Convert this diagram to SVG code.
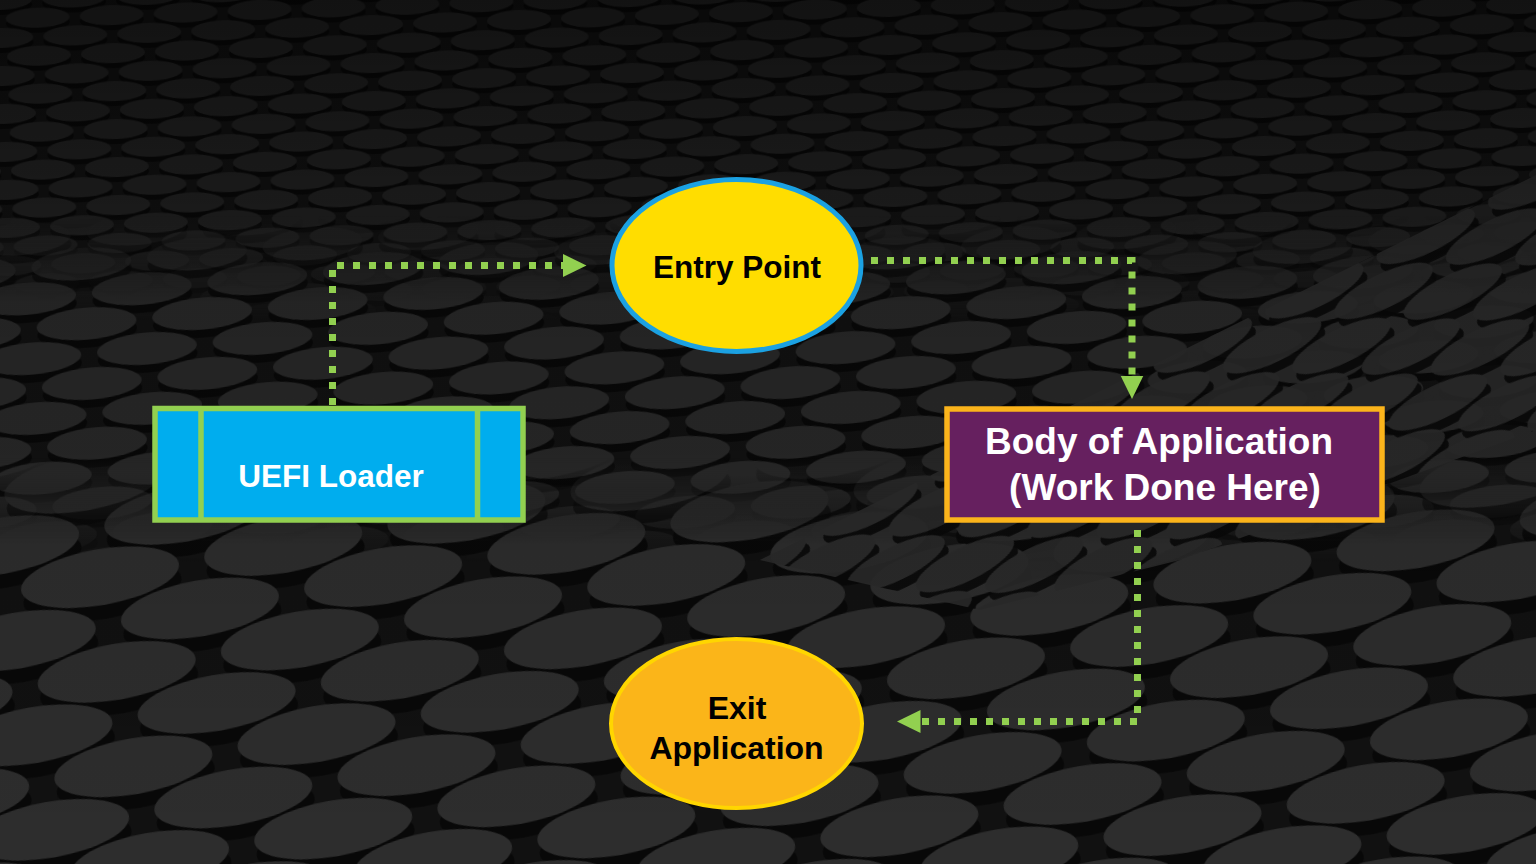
<svg xmlns="http://www.w3.org/2000/svg" width="1536" height="864" viewBox="0 0 1536 864">
  <style>
    .lbl { font-family: "Liberation Sans", Arial, sans-serif; font-weight: bold; text-anchor: middle; }
    .conn { fill: none; stroke: #92D050; stroke-width: 7; stroke-dasharray: 7 9; }
    .sh { fill: #080808; }
  </style>
  <defs>
    <marker id="arrow" markerUnits="userSpaceOnUse" markerWidth="24" markerHeight="24" refX="0" refY="11.5" orient="auto">
      <path d="M0,0 L23.5,11.5 L0,23 Z" fill="#92D050"/>
    </marker>
    <pattern id="pSmall" patternUnits="userSpaceOnUse" width="74" height="38" patternTransform="rotate(-2)">
      <g fill="#212121">
        <ellipse class="sh" cx="0" cy="5" rx="32" ry="10"/>
        <ellipse class="sh" cx="74" cy="5" rx="32" ry="10"/>
        <ellipse cx="0" cy="0" rx="32" ry="10"/>
        <ellipse cx="74" cy="0" rx="32" ry="10"/>
        <ellipse class="sh" cx="37" cy="24" rx="32" ry="10"/>
        <ellipse cx="37" cy="19" rx="32" ry="10"/>
        <ellipse class="sh" cx="0" cy="43" rx="32" ry="10"/>
        <ellipse class="sh" cx="74" cy="43" rx="32" ry="10"/>
        <ellipse cx="0" cy="38" rx="32" ry="10"/>
        <ellipse cx="74" cy="38" rx="32" ry="10"/>
      </g>
    </pattern>
    <pattern id="pMid" patternUnits="userSpaceOnUse" width="116" height="60" patternTransform="rotate(-5)">
      <g fill="#282828">
        <ellipse class="sh" cx="0" cy="8" rx="50" ry="16"/>
        <ellipse class="sh" cx="116" cy="8" rx="50" ry="16"/>
        <ellipse cx="0" cy="0" rx="50" ry="16"/>
        <ellipse cx="116" cy="0" rx="50" ry="16"/>
        <ellipse class="sh" cx="58" cy="38" rx="50" ry="16"/>
        <ellipse cx="58" cy="30" rx="50" ry="16"/>
        <ellipse class="sh" cx="0" cy="68" rx="50" ry="16"/>
        <ellipse class="sh" cx="116" cy="68" rx="50" ry="16"/>
        <ellipse cx="0" cy="60" rx="50" ry="16"/>
        <ellipse cx="116" cy="60" rx="50" ry="16"/>
      </g>
    </pattern>
    <pattern id="pBig" patternUnits="userSpaceOnUse" width="186" height="96" patternTransform="translate(0,10) rotate(-10)">
      <g fill="#2d2d2d">
        <ellipse class="sh" cx="0" cy="14" rx="80" ry="28"/>
        <ellipse class="sh" cx="186" cy="14" rx="80" ry="28"/>
        <ellipse cx="0" cy="0" rx="80" ry="28"/>
        <ellipse cx="186" cy="0" rx="80" ry="28"/>
        <ellipse class="sh" cx="93" cy="62" rx="80" ry="28"/>
        <ellipse cx="93" cy="48" rx="80" ry="28"/>
        <ellipse class="sh" cx="0" cy="110" rx="80" ry="28"/>
        <ellipse class="sh" cx="186" cy="110" rx="80" ry="28"/>
        <ellipse cx="0" cy="96" rx="80" ry="28"/>
        <ellipse cx="186" cy="96" rx="80" ry="28"/>
      </g>
    </pattern>
    <pattern id="pRidge" patternUnits="userSpaceOnUse" width="124" height="62" patternTransform="rotate(-26)">
      <g fill="#2a2a2a">
        <ellipse class="sh" cx="0" cy="9" rx="54" ry="17"/>
        <ellipse class="sh" cx="124" cy="9" rx="54" ry="17"/>
        <ellipse cx="0" cy="0" rx="54" ry="17"/>
        <ellipse cx="124" cy="0" rx="54" ry="17"/>
        <ellipse class="sh" cx="62" cy="40" rx="54" ry="17"/>
        <ellipse cx="62" cy="31" rx="54" ry="17"/>
        <ellipse class="sh" cx="0" cy="71" rx="54" ry="17"/>
        <ellipse class="sh" cx="124" cy="71" rx="54" ry="17"/>
        <ellipse cx="0" cy="62" rx="54" ry="17"/>
        <ellipse cx="124" cy="62" rx="54" ry="17"/>
      </g>
    </pattern>
    <linearGradient id="gTop" x1="0" y1="0" x2="0" y2="1">
      <stop offset="0" stop-color="#fff"/>
      <stop offset="0.27" stop-color="#fff"/>
      <stop offset="0.37" stop-color="#000"/>
    </linearGradient>
    <linearGradient id="gMid" x1="0" y1="0" x2="0" y2="1">
      <stop offset="0.25" stop-color="#000"/>
      <stop offset="0.35" stop-color="#fff"/>
      <stop offset="0.55" stop-color="#fff"/>
      <stop offset="0.65" stop-color="#000"/>
    </linearGradient>
    <linearGradient id="gBot" x1="0" y1="0" x2="0" y2="1">
      <stop offset="0.53" stop-color="#000"/>
      <stop offset="0.63" stop-color="#fff"/>
    </linearGradient>
    <linearGradient id="gShade" x1="0" y1="0" x2="0" y2="1">
      <stop offset="0" stop-color="#000" stop-opacity="0.45"/>
      <stop offset="0.35" stop-color="#000" stop-opacity="0.12"/>
      <stop offset="1" stop-color="#000" stop-opacity="0"/>
    </linearGradient>
    <mask id="mTop"><rect width="1536" height="864" fill="url(#gTop)"/></mask>
    <mask id="mMid"><rect width="1536" height="864" fill="url(#gMid)"/></mask>
    <mask id="mBot"><rect width="1536" height="864" fill="url(#gBot)"/></mask>
  </defs>

  <g id="background">
    <rect width="1536" height="864" fill="#111"/>
    <rect width="1536" height="864" fill="url(#pSmall)" mask="url(#mTop)"/>
    <rect width="1536" height="864" fill="url(#pMid)" mask="url(#mMid)"/>
    <rect width="1536" height="864" fill="url(#pBig)" mask="url(#mBot)"/>
    <polygon points="760,560 1536,175 1536,430 1180,560 980,610" fill="url(#pRidge)" opacity="0.9"/>
    <rect width="1536" height="864" fill="url(#gShade)"/>
  </g>

  <g id="connectors">
    <path class="conn" d="M332.5,405 V265.5 H563" marker-end="url(#arrow)"/>
    <path class="conn" d="M871,260.5 H1132 V375.5" marker-end="url(#arrow)"/>
    <path class="conn" d="M1137.5,530 V721.5 H920.5" marker-end="url(#arrow)"/>
  </g>

  <g id="uefi-loader">
    <rect x="155" y="408.5" width="368" height="111.5" fill="#00ADEE" stroke="#92D050" stroke-width="5.5"/>
    <line x1="201" y1="408.5" x2="201" y2="520" stroke="#92D050" stroke-width="5.5"/>
    <line x1="477.5" y1="408.5" x2="477.5" y2="520" stroke="#92D050" stroke-width="5.5"/>
    <text class="lbl" x="331" y="487" font-size="31.5" fill="#fff">UEFI Loader</text>
  </g>

  <g id="entry-point">
    <ellipse cx="736.5" cy="265.5" rx="124.5" ry="86" fill="#FFDD00" stroke="#1BA1E2" stroke-width="5"/>
    <text class="lbl" x="737" y="277.5" font-size="31.5" fill="#000">Entry Point</text>
  </g>

  <g id="body-of-application">
    <rect x="947" y="409" width="435" height="111" fill="#66205F" stroke="#FBB41B" stroke-width="5.5"/>
    <text class="lbl" x="1159" y="454" font-size="37" fill="#fff">Body of Application</text>
    <text class="lbl" x="1165" y="500" font-size="37" fill="#fff">(Work Done Here)</text>
  </g>

  <g id="exit-application">
    <ellipse cx="736.5" cy="723.5" rx="125.5" ry="84.5" fill="#FBB519" stroke="#FFD600" stroke-width="4"/>
    <text class="lbl" x="737" y="718.5" font-size="32" fill="#000">Exit</text>
    <text class="lbl" x="736.5" y="758.5" font-size="32" fill="#000">Application</text>
  </g>
</svg>
